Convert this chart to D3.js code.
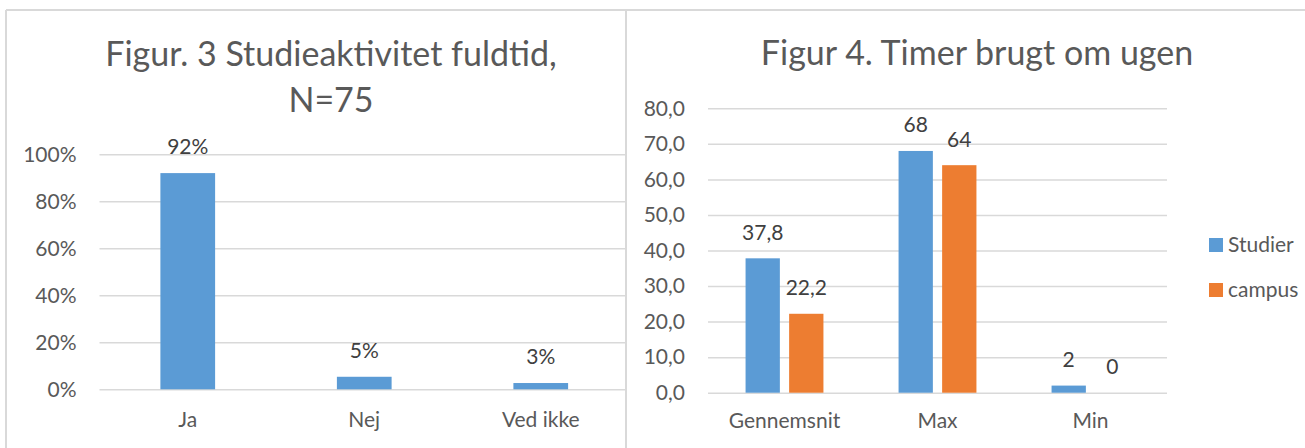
<!DOCTYPE html>
<html>
<head>
<meta charset="utf-8">
<script src="https://cdn.jsdelivr.net/npm/d3@7"></script>
<style>
  html, body { margin: 0; padding: 0; background: #ffffff; }
  svg { display: block; font-family: Lato, "Open Sans", sans-serif; }
</style>
</head>
<body>
<svg id="chart" width="1305" height="448"></svg>
<script>
// ---- Data ----
const leftTitle = ["Figur. 3 Studieaktivitet fuldtid,", "N=75"];
const leftCategories = ["Ja", "Nej", "Ved ikke"];
const leftValues = [0.92, 0.0533, 0.0267];
const leftTicks = [0, 0.2, 0.4, 0.6, 0.8, 1.0];

const rightTitle = "Figur 4. Timer brugt om ugen";
const rightCategories = ["Gennemsnit", "Max", "Min"];
const seriesNames = ["Studier", "campus"];
const studierValues = [37.8, 68, 2];
const campusValues = [22.2, 64, 0];
const rightTicks = [0, 10, 20, 30, 40, 50, 60, 70, 80];
const seriesColors = ["#5b9bd5", "#ed7d31"];

// ---- Styles ----
const gridColor = "#d9d9d9";
const axisTextColor = "#595959";
const labelTextColor = "#404040";
const labelSize = 21;
const titleSize = 34;

const svg = d3.select("#chart");
svg.append("rect").attr("width", 1305).attr("height", 448).attr("fill", "#fff");

// Frame lines
const frame = svg.append("g").attr("stroke", gridColor).attr("stroke-width", 2);
frame.append("line").attr("x1", 6).attr("x2", 1305).attr("y1", 10).attr("y2", 10);
frame.append("line").attr("x1", 6).attr("x2", 6).attr("y1", 10).attr("y2", 448);
frame.append("line").attr("x1", 626).attr("x2", 626).attr("y1", 10).attr("y2", 448);

const commaFmt = v => String(v).replace(".", ",");

// ================= Left chart =================
(function () {
  const y = d3.scaleLinear().domain([0, 1]).range([389.3, 154.3]);
  const x = d3.scaleBand().domain(leftCategories).range([99.5, 629])
    .paddingInner(0.69).paddingOuter(0.345);
  const g = svg.append("g");

  // title
  const t = g.append("text").attr("text-anchor", "middle").attr("fill", axisTextColor)
    .attr("font-size", titleSize);
  t.append("tspan").attr("x", 331).attr("y", 66).text(leftTitle[0]);
  t.append("tspan").attr("x", 331).attr("y", 112).text(leftTitle[1]);

  // y axis (gridlines + labels)
  const yAxis = d3.axisLeft(y).tickValues(leftTicks).tickFormat(d3.format(".0%"))
    .tickSize(-(625 - 99.5)).tickPadding(23);
  const ya = g.append("g").attr("transform", "translate(99.5,0)").call(yAxis);
  ya.select(".domain").remove();
  ya.selectAll(".tick line").attr("stroke", gridColor).attr("stroke-width", 1.5);
  ya.selectAll(".tick text").attr("fill", axisTextColor).attr("font-size", labelSize)
    .attr("font-family", "Lato, sans-serif");

  // x axis labels
  const xAxis = d3.axisBottom(x).tickSize(0).tickPadding(0);
  const xa = g.append("g").attr("transform", "translate(0,389.3)").call(xAxis);
  xa.select(".domain").remove();
  xa.selectAll(".tick text").attr("fill", axisTextColor).attr("font-size", labelSize)
    .attr("font-family", "Lato, sans-serif").attr("dy", null).attr("y", 38);

  // bars
  g.selectAll("rect.bar").data(leftCategories).join("rect").attr("class", "bar")
    .attr("x", d => x(d)).attr("width", x.bandwidth())
    .attr("y", (d, i) => y(leftValues[i]))
    .attr("height", (d, i) => y(0) - y(leftValues[i]))
    .attr("fill", seriesColors[0]);

  // data labels
  g.selectAll("text.dl").data(leftCategories).join("text").attr("class", "dl")
    .attr("x", d => x(d) + x.bandwidth() / 2)
    .attr("y", (d, i) => y(leftValues[i]) - 19)
    .attr("text-anchor", "middle").attr("fill", labelTextColor).attr("font-size", labelSize)
    .text((d, i) => d3.format(".0%")(leftValues[i]));
})();

// ================= Right chart =================
(function () {
  const y = d3.scaleLinear().domain([0, 80]).range([392.7, 108.3]);
  const x0 = d3.scaleBand().domain(rightCategories).range([708, 1167])
    .paddingInner(2.19 / 4.46).paddingOuter(2.19 / 4.46 / 2);
  const x1 = d3.scaleBand().domain(seriesNames).range([0, x0.bandwidth()])
    .paddingInner(0.27 / 1.27);
  const series = [studierValues, campusValues];
  const g = svg.append("g");

  g.append("text").attr("x", 977).attr("y", 65).attr("text-anchor", "middle")
    .attr("fill", axisTextColor).attr("font-size", titleSize).text(rightTitle);

  const yAxis = d3.axisLeft(y).tickValues(rightTicks).tickFormat(v => d3.format(".1f")(v).replace(".", ","))
    .tickSize(-(1167 - 708)).tickPadding(23);
  const ya = g.append("g").attr("transform", "translate(708,0)").call(yAxis);
  ya.select(".domain").remove();
  ya.selectAll(".tick line").attr("stroke", gridColor).attr("stroke-width", 1.5);
  ya.selectAll(".tick text").attr("fill", axisTextColor).attr("font-size", labelSize)
    .attr("font-family", "Lato, sans-serif");

  const xAxis = d3.axisBottom(x0).tickSize(0).tickPadding(0);
  const xa = g.append("g").attr("transform", "translate(0,392.7)").call(xAxis);
  xa.select(".domain").remove();
  xa.selectAll(".tick text").attr("fill", axisTextColor).attr("font-size", labelSize)
    .attr("font-family", "Lato, sans-serif").attr("dy", null).attr("y", 35);

  const rows = [];
  rightCategories.forEach((c, ci) => seriesNames.forEach((s, si) => rows.push({ c, s, si, v: series[si][ci] })));

  g.selectAll("rect.bar").data(rows).join("rect").attr("class", "bar")
    .attr("x", d => x0(d.c) + x1(d.s)).attr("width", x1.bandwidth())
    .attr("y", d => y(d.v)).attr("height", d => y(0) - y(d.v))
    .attr("fill", d => seriesColors[d.si]);

  g.selectAll("text.dl").data(rows).join("text").attr("class", "dl")
    .attr("x", d => x0(d.c) + x1(d.s) + x1.bandwidth() / 2)
    .attr("y", d => y(d.v) - 18.5)
    .attr("text-anchor", "middle").attr("fill", labelTextColor).attr("font-size", labelSize)
    .text(d => commaFmt(d.v));

  // legend
  const lg = g.append("g");
  const items = lg.selectAll("g").data(seriesNames).join("g")
    .attr("transform", (d, i) => `translate(1209,${238 + i * 45})`);
  items.append("rect").attr("width", 14).attr("height", 14).attr("fill", (d, i) => seriesColors[i]);
  items.append("text").attr("x", 19).attr("y", 7).attr("dy", "0.35em")
    .attr("fill", axisTextColor).attr("font-size", labelSize).text(d => d);
})();
</script>
</body>
</html>
